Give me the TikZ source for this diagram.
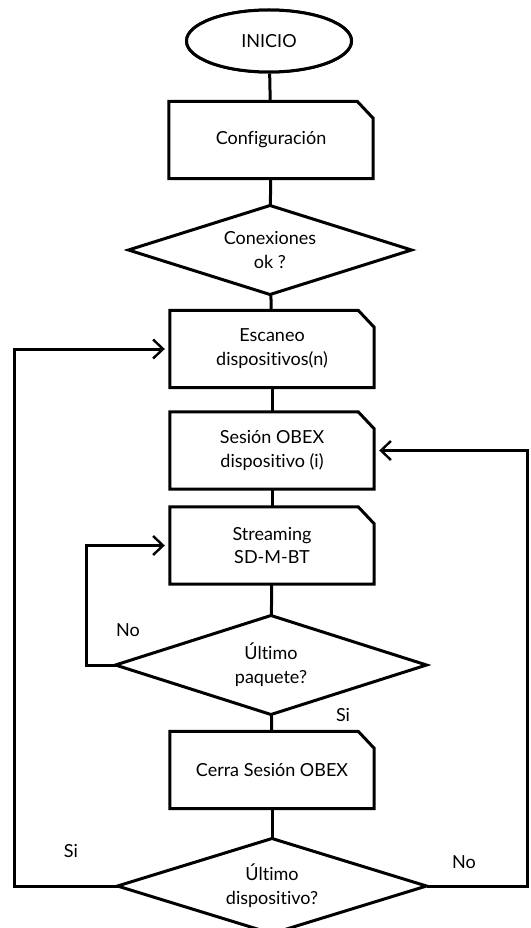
\documentclass[tikz,border=0pt]{standalone}
\usepackage{fontspec}
\setmainfont{Lato}[Ligatures=NoCommon]
\usetikzlibrary{shapes.geometric,arrows.meta}
\tikzset{
  lw/.style={line width=3pt},
  cardbox/.style={rectangle,minimum width=204pt,minimum height=77pt,inner sep=0pt,align=center},
  decision/.style={diamond,draw,lw,fill=white,aspect=3.2,inner sep=0pt,align=center},
  terminal/.style={ellipse,draw,lw,fill=white,minimum width=165pt,minimum height=62pt,inner sep=0pt,font=\fontsize{18}{24}\selectfont},
  link/.style={lw},
  arrowlink/.style={lw,-{Straight Barb[length=10pt,width=19pt,line width=2.4pt]},shorten >=5pt},
  lbl/.style={font=\fontsize{18}{24}\selectfont,inner sep=0pt}
}
\newcommand{\cardoutline}[1]{%
  \foreach \k in {4,3,2,1}{%
    \fill[black,opacity=0.05,shift={(\k pt,\k pt)}] (#1.south west) -- (#1.north west) -- ([xshift=-16pt]#1.north east) -- ([yshift=-17pt]#1.north east) -- (#1.south east) -- cycle;}
  \filldraw[lw,fill=white,line join=miter] (#1.south west) -- (#1.north west) -- ([xshift=-16pt]#1.north east) -- ([yshift=-17pt]#1.north east) -- (#1.south east) -- cycle;}
\begin{document}
\begin{tikzpicture}[x=1pt,y=-1pt]
\useasboundingbox (0,0) rectangle (530,928);
% node placement (text drawn later on top)
\node[terminal] (ini) at (269,41) {INICIO};
\node[cardbox] (conf) at (271,140) {};
\node[decision,minimum width=280pt,minimum height=86pt] (d1) at (270,250) {};
\node[cardbox] (scan) at (272,349) {};
\node[cardbox] (ses) at (272,450.5) {};
\node[cardbox] (str) at (272,545.5) {};
\node[decision,minimum width=308pt,minimum height=96pt] (d2) at (271,665) {};
\node[cardbox] (cer) at (272,770) {};
\node[decision,minimum width=306pt,minimum height=92pt] (d3) at (272,886) {};
\coordinate (L) at (14,886);
\coordinate (R) at (527,886);
\coordinate (M) at (86,665);
% connectors
\draw[link] (ini) -- (conf);
\draw[link] (conf) -- (d1);
\draw[link] (d1) -- (scan);
\draw[link] (scan) -- (ses);
\draw[link] (ses) -- (str);
\draw[link] (str) -- (d2);
\draw[link] (d2) -- (cer);
\draw[link] (cer) -- (d3);
\draw[arrowlink,line join=miter] (d3.west) -- (L) |- (scan.west);
\draw[arrowlink,line join=miter] (d2.west) -- (M) |- (str.west);
\draw[arrowlink,line join=miter] (d3.east) -- (R) |- (ses.east);
% shapes on top
\foreach \k in {4,3,2,1}{\fill[black,opacity=0.05,shift={(\k pt,\k pt)}] (ini.center) ellipse[x radius=82.5pt,y radius=31pt];}
\node[terminal] at (ini.center) {INICIO};
\cardoutline{conf}
\cardoutline{scan}
\cardoutline{ses}
\cardoutline{str}
\cardoutline{cer}
\foreach \n in {d1,d2,d3}{%
  \foreach \k in {4,3,2,1}{\fill[black,opacity=0.05,shift={(\k pt,\k pt)}] (\n.north) -- (\n.east) -- (\n.south) -- (\n.west) -- cycle;}
  \filldraw[lw,fill=white,line join=miter] (\n.north) -- (\n.east) -- (\n.south) -- (\n.west) -- cycle;}
% texts
\node[lbl,align=center] at (conf.center) {Configuración};
\node[lbl,align=center] at (d1.center) {Conexiones\\ok ?};
\node[lbl,align=center] at (scan.center) {Escaneo\\dispositivos(n)};
\node[lbl,align=center] at (ses.center) {Sesión OBEX\\dispositivo (i)};
\node[lbl,align=center] at (str.center) {Streaming\\SD-M-BT};
\node[lbl,align=center] at (d2.center) {Último\\paquete?};
\node[lbl,align=center] at (cer.center) {Cerra Sesión OBEX};
\node[lbl,align=center] at (d3.center) {Último\\dispositivo?};
\node[lbl] (no1) at (128,630) {No};
\node[lbl] (si1) at (343,715) {Si};
\node[lbl] (si2) at (71,851) {Si};
\node[lbl] (no2) at (464,862) {No};
\end{tikzpicture}
\end{document}
